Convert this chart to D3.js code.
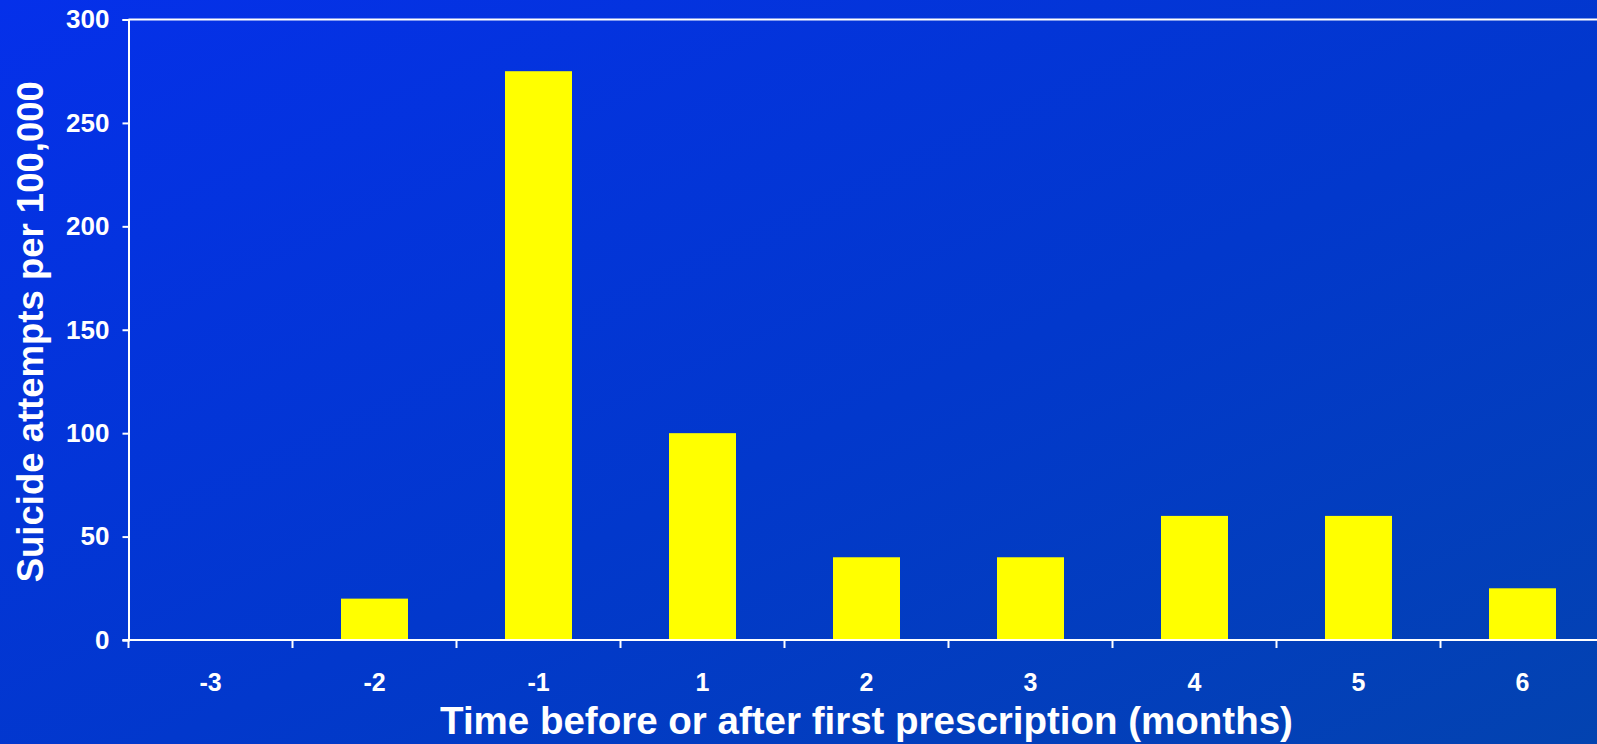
<!DOCTYPE html>
<html>
<head>
<meta charset="utf-8">
<script src="https://cdn.jsdelivr.net/npm/d3@7/dist/d3.min.js"></script>
<style>
  html, body { margin: 0; padding: 0; overflow: hidden; }
  svg { display: block; }
  text { font-family: "Liberation Sans", Arial, sans-serif; font-weight: bold; fill: #ffffff; }
</style>
</head>
<body>
<svg id="chart"></svg>
<script>
// Months relative to the first prescription
const months = ["-3", "-2", "-1", "1", "2", "3", "4", "5", "6"];
// Suicide attempts per 100,000 in each month
const attempts = [0, 20, 275, 100, 40, 40, 60, 60, 25];
// Y axis ticks
const yTicks = [0, 50, 100, 150, 200, 250, 300];

const W = 1597, H = 744;
const margin = { left: 128.5, top: 19.5, bottom: 104, right: -7.5 };

const svg = d3.select("#chart").attr("width", W).attr("height", H);

// Diagonal blue backdrop
const defs = svg.append("defs");
const grad = defs.append("linearGradient")
  .attr("id", "bg").attr("x1", "0").attr("y1", "0").attr("x2", "1").attr("y2", "1");
grad.append("stop").attr("offset", "0%").attr("stop-color", "#0530ea");
grad.append("stop").attr("offset", "55%").attr("stop-color", "#0238cc");
grad.append("stop").attr("offset", "100%").attr("stop-color", "#0343b0");
svg.append("rect").attr("width", W).attr("height", H).attr("fill", "url(#bg)");

// Month bands; ticks sit on the band boundaries, bars are centred in each band
const xEdge = d3.scaleBand().domain(months).range([margin.left, W - margin.right]);
const barWidth = 67;

const y = d3.scaleLinear().domain([0, 300]).range([H - margin.bottom, margin.top]);

// Bars
svg.append("g").selectAll("rect")
  .data(months.map((m, i) => ({ m, v: attempts[i] })))
  .join("rect")
  .attr("x", d => xEdge(d.m) + xEdge.bandwidth() / 2 - barWidth / 2)
  .attr("width", barWidth)
  .attr("y", d => y(d.v))
  .attr("height", d => y(0) - y(d.v))
  .attr("fill", "#ffff00");

// Top frame line
svg.append("line")
  .attr("x1", margin.left).attr("x2", W)
  .attr("y1", y(300)).attr("y2", y(300))
  .attr("stroke", "#ffffff").attr("stroke-width", 2);

// Y axis
const yAxis = svg.append("g")
  .attr("transform", `translate(${margin.left},0)`)
  .call(d3.axisLeft(y).tickValues(yTicks).tickSize(6).tickPadding(13).tickFormat(d3.format("d")));
yAxis.select(".domain").attr("stroke", "#ffffff").attr("stroke-width", 2);
yAxis.selectAll(".tick line").attr("stroke", "#ffffff").attr("stroke-width", 2);
yAxis.selectAll(".tick text")
  .attr("font-size", 26).attr("fill", "#ffffff")
  .attr("font-family", "Liberation Sans, Arial, sans-serif").attr("font-weight", "bold");

// X axis baseline with ticks between months
const xAxisG = svg.append("g").attr("transform", `translate(0,${y(0)})`);
xAxisG.append("line")
  .attr("x1", margin.left - 6).attr("x2", W)
  .attr("y1", 0).attr("y2", 0)
  .attr("stroke", "#ffffff").attr("stroke-width", 2);
xAxisG.selectAll("line.tick")
  .data(months)
  .join("line")
  .attr("class", "tick")
  .attr("x1", d => xEdge(d)).attr("x2", d => xEdge(d))
  .attr("y1", 0).attr("y2", 8)
  .attr("stroke", "#ffffff").attr("stroke-width", 2);
xAxisG.selectAll("text.lbl")
  .data(months)
  .join("text")
  .attr("class", "lbl")
  .attr("x", d => xEdge(d) + xEdge.bandwidth() / 2)
  .attr("y", 51)
  .attr("text-anchor", "middle")
  .attr("font-size", 25)
  .text(d => d);

// Axis titles
svg.append("text")
  .attr("x", (margin.left + W - margin.right) / 2)
  .attr("y", 734)
  .attr("text-anchor", "middle")
  .attr("font-size", 38.5)
  .text("Time before or after first prescription (months)");

svg.append("text")
  .attr("transform", `translate(43,${(y(0) + y(300)) / 2 + 2}) rotate(-90)`)
  .attr("text-anchor", "middle")
  .attr("font-size", 36.5)
  .text("Suicide attempts per 100,000");
</script>
</body>
</html>
